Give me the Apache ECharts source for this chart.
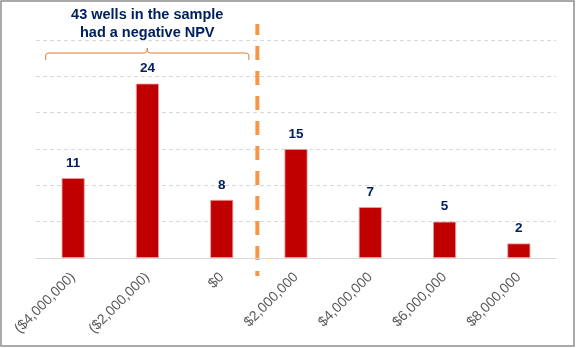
<!DOCTYPE html>
<html>
<head>
<meta charset="utf-8">
<script src="https://cdn.jsdelivr.net/npm/echarts@6/dist/echarts.min.js"></script>
<style>
  html, body { margin: 0; padding: 0; background: #fff; }
  #chart { width: 576px; height: 348px; }
</style>
</head>
<body>
<div id="chart"></div>
<script>
// NPV buckets (x axis) and number of wells in each bucket
const categories = ['($4,000,000)', '($2,000,000)', '$0', '$2,000,000', '$4,000,000', '$6,000,000', '$8,000,000'];
const wellCounts = [11, 24, 8, 15, 7, 5, 2];
const yTicks = { min: 0, max: 30, interval: 5 };
const noteLines = ['43 wells in the sample', 'had a negative NPV'];
// the break-even divider sits between these two buckets
const dividerBetween = [2, 3];

const FONT = "'Liberation Sans', Arial, sans-serif";
const NAVY = '#002060';
const ORANGE = '#F79646';

const chart = echarts.init(document.getElementById('chart'), null, { renderer: 'canvas' });

chart.setOption({
  animation: false,
  backgroundColor: '#ffffff',
  grid: { left: 36, right: 20, top: 40, bottom: 90, containLabel: false },
  xAxis: {
    type: 'category',
    data: categories,
    axisLine: { show: true, lineStyle: { color: '#d9d9d9', width: 1 } },
    axisTick: { show: false },
    axisLabel: {
      rotate: 45,
      margin: 17,
      color: '#595959',
      fontFamily: FONT,
      fontSize: 14,
      interval: 0
    }
  },
  yAxis: {
    type: 'value',
    min: yTicks.min,
    max: yTicks.max,
    interval: yTicks.interval,
    axisLine: { show: false },
    axisTick: { show: false },
    axisLabel: { show: false },
    splitLine: { show: true, lineStyle: { color: '#d9d9d9', type: [4, 3], width: 1 } }
  },
  series: [{
    type: 'bar',
    data: wellCounts,
    barWidth: 23,
    itemStyle: { color: '#C00000', borderColor: '#e8a3a3', borderWidth: 0.8 },
    label: {
      show: true,
      position: 'top',
      distance: 8,
      color: NAVY,
      fontFamily: FONT,
      fontWeight: 'bold',
      fontSize: 13.5
    }
  }]
});

// Annotations placed from the axes' own coordinate conversion
function px(catIdx) { return chart.convertToPixel({ xAxisIndex: 0 }, catIdx); }
function py(val) { return chart.convertToPixel({ yAxisIndex: 0 }, val); }

const yTop = py(yTicks.max);
const yBase = py(0);
const divX = (px(dividerBetween[0]) + px(dividerBetween[1])) / 2;

// brace over the negative-NPV buckets
const bL = px(0) - 27.5;
const bR = divX - 10;
const bM = (bL + bR) / 2;
const bY = yTop + 13;
const bracePoints = [
  [bL, bY + 7], [bL, bY + 2], [bL + 1, bY + 0.6], [bL + 3, bY],
  [bM - 3, bY], [bM - 1, bY - 0.8], [bM, bY - 2.5], [bM, bY - 5],
  [bM, bY - 2.5], [bM + 1, bY - 0.8], [bM + 3, bY],
  [bR - 3, bY], [bR - 1, bY + 0.6], [bR, bY + 2], [bR, bY + 7]
];

chart.setOption({
  graphic: [
    {
      type: 'rect',
      shape: { x: 1, y: 1, width: 573, height: 345 },
      style: { fill: null, stroke: '#8f8f8f', lineWidth: 1.5 },
      silent: true
    },
    {
      type: 'line',
      shape: { x1: divX - 1.5, y1: yTop - 16, x2: divX - 1.5, y2: yBase + 18 },
      style: { stroke: ORANGE, lineWidth: 4, lineDash: [14, 11], lineDashOffset: 3 },
      silent: true
    },
    {
      type: 'polyline',
      shape: { points: bracePoints },
      style: { fill: null, stroke: '#E47B2C', lineWidth: 1 },
      silent: true
    },
    {
      type: 'text',
      x: bM,
      y: bY - 29,
      style: {
        text: noteLines.join('\n'),
        fill: NAVY,
        font: 'bold 14.5px ' + FONT,
        lineHeight: 18,
        align: 'center',
        verticalAlign: 'middle'
      },
      silent: true
    }
  ]
});
</script>
</body>
</html>
